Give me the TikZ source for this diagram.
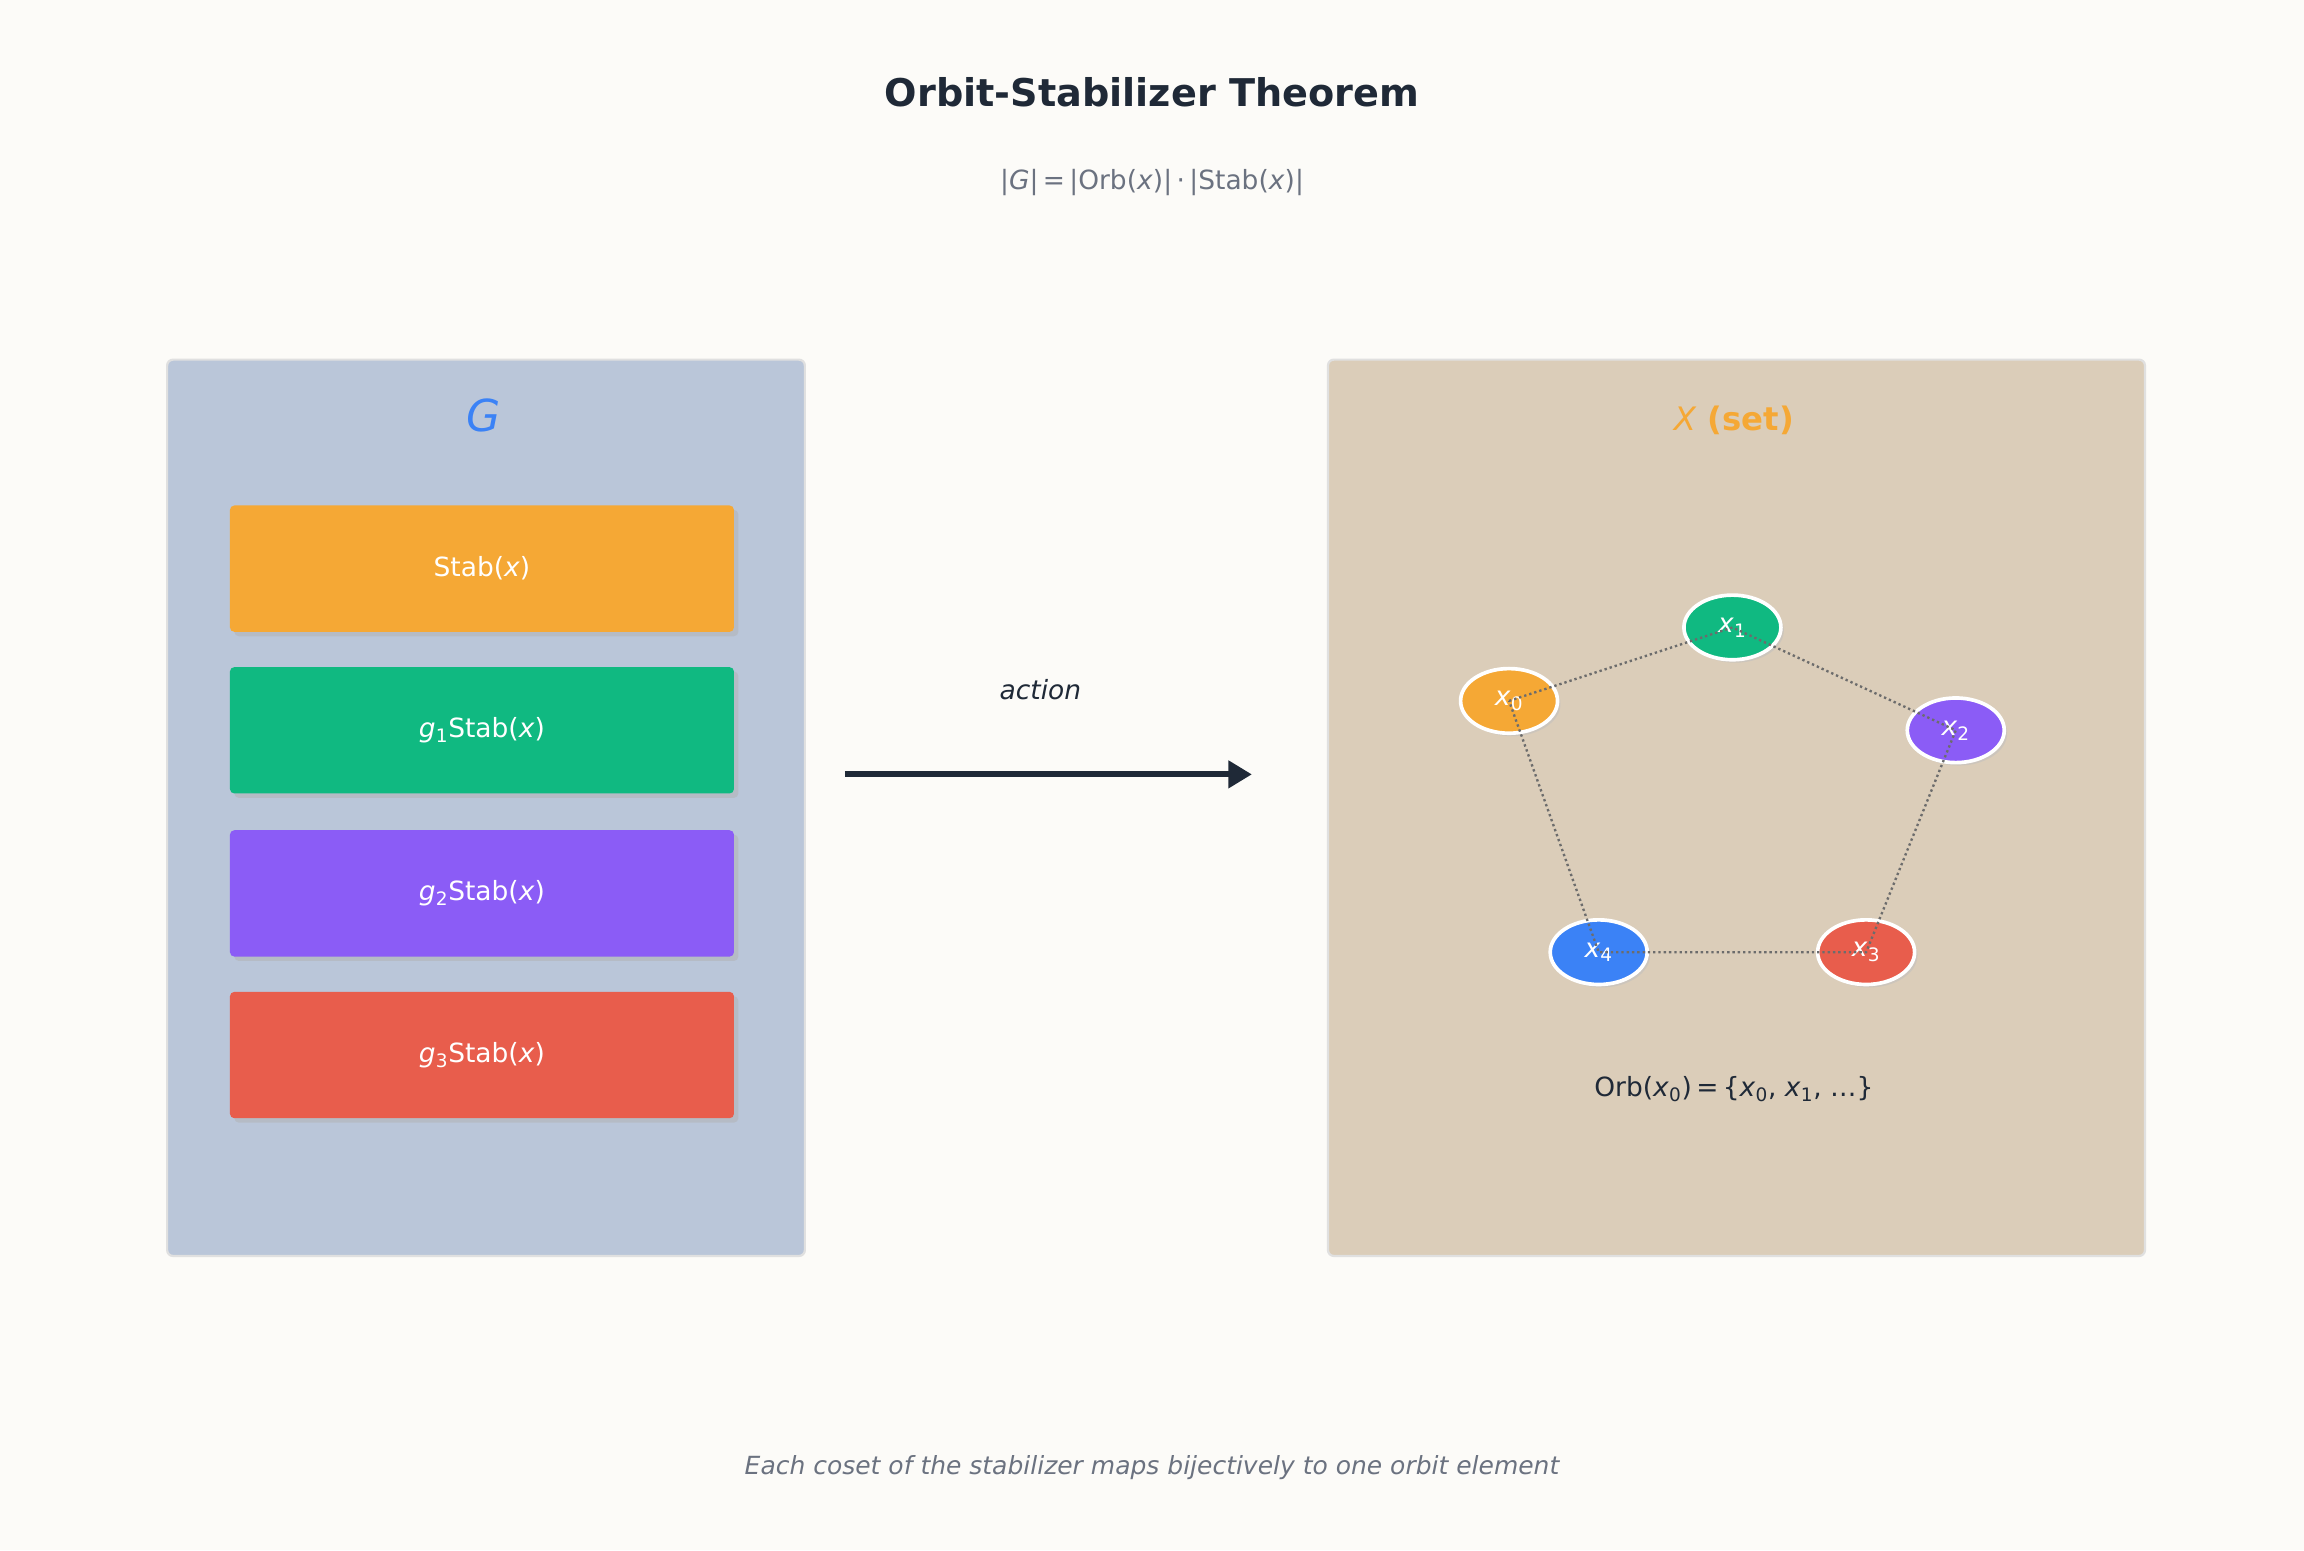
\documentclass[tikz,border=0pt]{standalone}
\usepackage{fontspec}
\setmainfont{DejaVu Sans}
\usetikzlibrary{shapes.geometric,arrows.meta}
\definecolor{bg}{HTML}{FCFBF8}
\definecolor{ink}{HTML}{1F2937}
\definecolor{gray1}{HTML}{6B7280}
\definecolor{cO}{HTML}{F5A835}
\definecolor{cG}{HTML}{10B981}
\definecolor{cP}{HTML}{8B5CF6}
\definecolor{cR}{HTML}{E85D4C}
\definecolor{cB}{HTML}{3B82F6}
\definecolor{pL}{HTML}{BAC6D9}
\definecolor{pR}{HTML}{DBCDB9}
\begin{document}
\begin{tikzpicture}[x=1pt,y=-1pt,
  panel/.style={rounded corners=4pt,draw=black!12,line width=1.5pt},
  cbox/.style={rounded corners=3pt,minimum width=343pt,minimum height=86pt,text=white,font=\fontsize{18}{20}\selectfont,
    drop shadow={shadow xshift=3pt,shadow yshift=-3pt,fill=black!30}},
  el/.style={ellipse,minimum width=66pt,minimum height=44pt,inner sep=0pt,draw=white,line width=2.5pt,text=white,font=\fontsize{18}{20}\selectfont,
    drop shadow={shadow xshift=2pt,shadow yshift=-2pt,fill=black!25}},
  dl/.style={draw=gray!85!black,dotted,line width=1.6pt}]
\usetikzlibrary{shadows}
\fill[bg] (0,0) rectangle (1568,1055);
\useasboundingbox (0,0) rectangle (1568,1055);
\node[font=\fontsize{26}{30}\selectfont\bfseries,text=ink] (title) at (784,63) {Orbit-Stabilizer Theorem};
\node[font=\fontsize{18}{22}\selectfont,text=gray1] (sub) at (784,124) {|\textit{G}|\,=\,|Orb(\textit{x})|\,·\,|Stab(\textit{x})|};
\node[panel,fill=pL,minimum width=434pt,minimum height=610pt,anchor=north west] (lp) at (113,244) {};
\node[panel,fill=pR,minimum width=556pt,minimum height=610pt,anchor=north west] (rp) at (903,244) {};
\node[font=\fontsize{30}{34}\selectfont\itshape,text=cB] (G) at (329,283) {G};
\node[font=\fontsize{22}{26}\selectfont\bfseries,text=cO] (X) at (1180,286) {\textmd{\textit{X}} (set)};
\node[cbox,fill=cO] (b0) at (328,387) {Stab(\textit{x})};
\node[cbox,fill=cG] (b1) at (328,497) {\textit{g}\textsubscript{1}Stab(\textit{x})};
\node[cbox,fill=cP] (b2) at (328,608) {\textit{g}\textsubscript{2}Stab(\textit{x})};
\node[cbox,fill=cR] (b3) at (328,718) {\textit{g}\textsubscript{3}Stab(\textit{x})};
\coordinate (a1) at (575,527);
\coordinate (a2) at (852,527);
\draw[ink,line width=4pt,-{Triangle[length=16pt,width=18pt]}] (a1) -- (a2);
\node[font=\fontsize{18}{22}\selectfont\itshape,text=ink] (act) at (708,469) {action};
\node[el,fill=cO] (x0) at (1027,477) {\textit{x}\textsubscript{0}};
\node[el,fill=cG] (x1) at (1179,427) {\textit{x}\textsubscript{1}};
\node[el,fill=cP] (x2) at (1331,497) {\textit{x}\textsubscript{2}};
\node[el,fill=cR] (x3) at (1270,648) {\textit{x}\textsubscript{3}};
\node[el,fill=cB] (x4) at (1088,648) {\textit{x}\textsubscript{4}};
\draw[dl] (x0.center) -- (x1.center) -- (x2.center) -- (x3.center) -- (x4.center) -- (x0.center);
\node[font=\fontsize{18}{22}\selectfont,text=ink] (orb) at (1180,741) {Orb(\textit{x}\textsubscript{0})\,=\,\{\textit{x}\textsubscript{0}, \textit{x}\textsubscript{1}, …\}};
\node[font=\fontsize{17}{20}\selectfont\itshape,text=gray1] (foot) at (784,999) {Each coset of the stabilizer maps bijectively to one orbit element};
\end{tikzpicture}
\end{document}
